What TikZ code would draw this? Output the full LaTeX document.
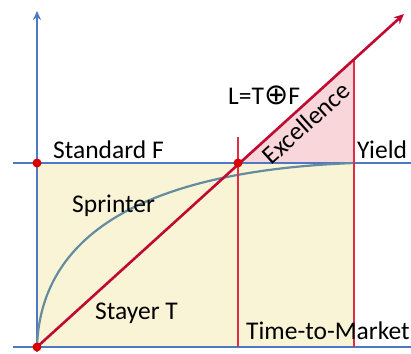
\documentclass[tikz,border=0pt]{standalone}
\usepackage{fontspec}
\setmainfont{Carlito}
\newfontfamily\symfont{DejaVu Sans}
\usepackage{xcolor}
\usetikzlibrary{arrows.meta,positioning,calc}

\definecolor{axisblue}{RGB}{79,120,196}
\definecolor{diagred}{RGB}{192,10,50}
\definecolor{vred}{RGB}{225,45,70}
\definecolor{areafill}{RGB}{250,244,214}
\definecolor{pinkfill}{RGB}{248,214,218}
\definecolor{curvegray}{RGB}{100,140,160}

\begin{document}
\begin{tikzpicture}[
    x=1pt, y=-1pt,
    >=Stealth,
    axis/.style={line width=2.4pt, color=axisblue},
    vline/.style={line width=1.4pt, color=vred},
    dot/.style={circle, fill=red!85!black, inner sep=0pt, minimum size=9pt},
    lbl/.style={font=\fontsize{25.5}{28}\selectfont, inner sep=1pt},
  ]
  \useasboundingbox (0,0) rectangle (411,353);

  % key points
  \coordinate (o) at (37,347);
  \coordinate (ytop) at (37,11);
  \coordinate (xl) at (13,347);
  \coordinate (xr) at (411,347);
  \coordinate (fl) at (13,163);
  \coordinate (fr) at (411,163);
  \coordinate (tip) at (404,14);
  \coordinate (m) at (238,163);
  \coordinate (mtop) at (238,137);
  \coordinate (yb) at (354,347);
  \coordinate (yf) at (354,163);
  \coordinate (yt) at (354,59);

  % areas
  \fill[areafill] (37,163) rectangle (yb);
  \fill[pinkfill] (m) -- (yt) -- (yf) -- cycle;

  % axes and standard line
  \draw[axis] (xl) -- (xr);
  \draw[axis] (fl) -- (fr);
  \draw[axis, -{Stealth[length=9pt,width=8pt]}] (37,352) -- (ytop);

  % sprinter curve
  \draw[curvegray, line width=2.2pt] (o) .. controls (40,252) and (115,172) .. (yf);

  % verticals
  \draw[vline] (mtop) -- (238,347);
  \draw[vline] (yt) -- (yb);

  % stayer line
  \draw[diagred, line width=2.6pt, -{Stealth[length=10pt,width=9pt]}] (o) -- (tip);

  \node[dot] (d0) at (o) {};
  \node[dot] (d1) at (37,163) {};
  \node[dot] (d2) at (m) {};

  % labels
  \node[lbl, anchor=base west] (stdf) at (52,158) {Standard F};
  \node[lbl, anchor=base west] (sprint) at (71,212) {Sprinter};
  \node[lbl, anchor=base west] (stay) at (94,319) {Stayer T};
  \node[lbl, anchor=base west] (ttm) at (245,339) {Time-to-Market};
  \node[lbl, anchor=base west] (yield) at (356,158) {Yield};
  \node[lbl, anchor=base west] (ltf) at (227,104) {L=T{\symfont\fontsize{29}{30}\selectfont ⊕}F};
  \node[lbl, rotate=42, anchor=center] (exc) at (306,123) {Excellence};
\end{tikzpicture}
\end{document}
